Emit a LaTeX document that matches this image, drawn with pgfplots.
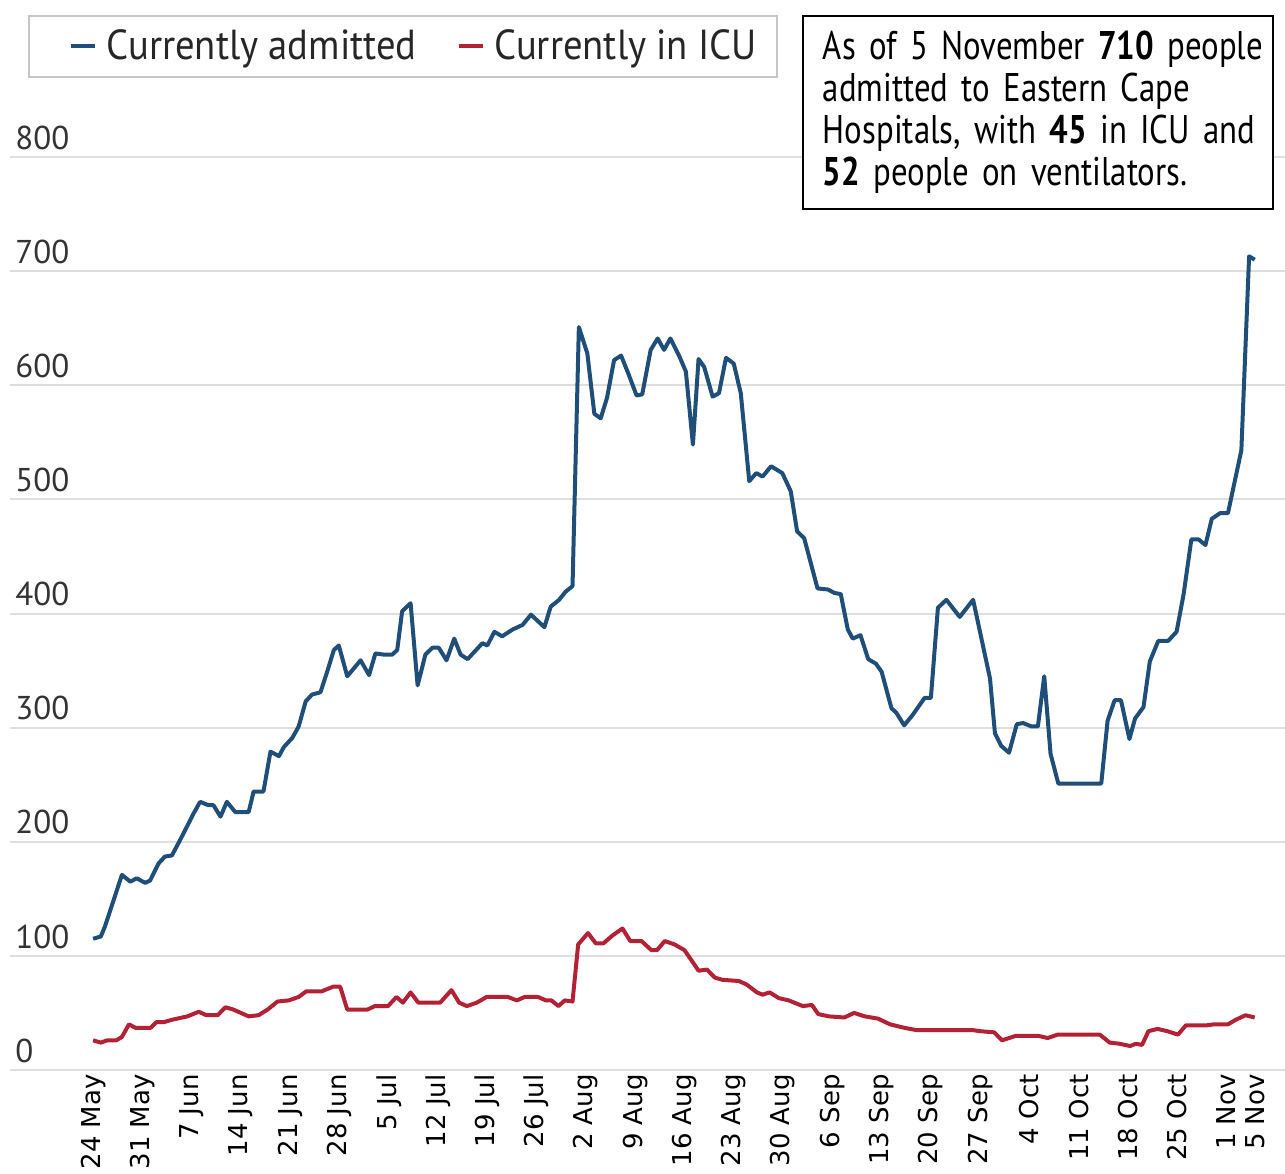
\documentclass[border=0pt]{standalone}
\usepackage{fontspec}
\setmainfont{PT Sans}[FakeStretch=0.92]
\newfontfamily\boxfont{PT Sans}[FakeStretch=0.82, WordSpace=0.6]
\newfontfamily\dejavu{DejaVu Sans}
\newfontfamily\tickfont{PT Sans}
\usepackage{pgfplots}
\pgfplotsset{compat=1.18}
\definecolor{cblue}{RGB}{31,78,121}
\definecolor{cred}{RGB}{178,34,52}
\definecolor{gridgray}{RGB}{222,222,222}
\begin{document}
\begin{tikzpicture}
\begin{axis}[
  at={(5pt,51.5pt)}, anchor=south west,
  width=637.5pt, height=456.5pt, scale only axis,
  xmin=-11.8, xmax=169.3, ymin=0, ymax=800,
  clip=false,
  axis line style={draw=none},
  ytick={0,100,...,800},
  ymajorgrids, grid style={color=gridgray, line width=1pt},
  major tick length=0pt,
  xtick={0,7,...,161,165},
  xticklabels={24 May,31 May,7 Jun,14 Jun,21 Jun,28 Jun,5 Jul,12 Jul,19 Jul,26 Jul,2 Aug,9 Aug,16 Aug,23 Aug,30 Aug,6 Sep,13 Sep,20 Sep,27 Sep,4 Oct,11 Oct,18 Oct,25 Oct,1 Nov,5 Nov},
  xticklabel style={rotate=90, anchor=east, inner sep=0pt, xshift=-2pt, font=\dejavu\fontsize{13}{13}\selectfont, text=black},
  yticklabel style={anchor=south west, inner sep=0pt, xshift=2.5pt, yshift=3.5pt, font=\tickfont\fontsize{16.5}{17}\selectfont, text=black!80},
  /pgf/number format/assume math mode=true,
  legend style={at={(0.0141,1.1555)}, anchor=north west, draw=gray!45, line width=0.8pt,
    font=\fontsize{21}{21}\selectfont, text=black!85, inner xsep=8pt, inner ysep=5pt,
    /tikz/every even column/.append style={column sep=6pt}},
  legend columns=2,
  legend cell align=left,
  legend image code/.code={\path (0pt,0pt) (27pt,0pt); \draw[#1, line width=2pt] (12pt,0pt) -- (24pt,0pt);},
]
\addplot[cblue, line width=2pt, line join=round, mark=none] coordinates {
(0,115)(1.1,117)(1.7,126)(4.1,171)(5.3,165)(6.2,168)(7.4,164)(8.1,166)(9.3,181)(10.2,187)(11.2,188)(12.4,202)(14.3,225)(15.2,235)(16.4,232)(17.1,232)(18.1,222)(19,235)(20.2,226)(22.1,226)(22.8,244)(24.2,244)(25.2,279)(26.4,275)(27.1,283)(28.3,291)(29.2,301)(30.2,323)(31.1,329)(32.3,331)(33.2,348)(34.2,368)(34.9,372)(36.1,345)(38,359)(39.2,346)(40.1,365)(41.3,364)(42.5,364)(43.2,368)(43.9,402)(45.1,409)(46.1,337)(47.2,364)(48.2,370)(49.1,370)(50.2,359)(51.3,378)(52.2,364)(53.2,360)(55.3,374)(56,372)(57,384)(58.1,380)(59.6,386)(61,390)(62.2,399)(64.1,388)(65,406)(66.2,412)(67.1,419)(68.1,424)(69,651)(70.2,628)(71.2,575)(72.1,571)(73,589)(74,622)(75,626)(76.1,609)(77.2,591)(78,592)(79.2,631)(80.2,641)(81.1,631)(82,641)(83.3,625)(84.2,612)(85.2,548)(86,623)(86.8,616)(88,590)(88.9,593)(89.9,624)(91,619)(92,593)(93.2,516)(94.2,523)(95.1,520)(96.3,529)(97.9,523)(99.1,507)(100,472)(101,466)(102.9,422)(104.4,421)(105.3,418)(106.2,417)(107.2,386)(107.9,378)(109,381)(110.1,360)(111.2,356)(112,349)(113.4,317)(114.1,313)(115.2,302)(116.4,311)(118.1,326)(119,326)(120,405)(121.2,412)(123.1,397)(125,412)(127.4,343)(128.1,295)(129,284)(130.1,278)(131.2,303)(132.1,304)(133.3,301)(134.2,301)(135.1,345)(136,277)(137.1,251)(143.2,251)(144.1,306)(145.1,324)(146,324)(147.2,290)(148,308)(149.2,318)(150.1,358)(151.3,376)(152.7,376)(153.9,384)(154.9,417)(156,465)(157,465)(158,460)(158.9,483)(160.1,488)(161.2,488)(162.2,517)(163.1,543)(164.2,713)(165,710)
};
\addlegendentry{Currently admitted}
\addplot[cred, line width=2pt, line join=round, mark=none] coordinates {
(0,26)(1.1,24)(2,26)(3.3,26)(4.1,29)(5.1,40)(6,37)(8.2,37)(9,42)(10.1,42)(11.2,44)(13.4,47)(15,51)(16.1,48)(17.7,48)(18.8,55)(19.9,53)(22.1,47)(23.5,48)(24.8,53)(26.2,60)(27.8,61)(29.2,64)(30.3,69)(32.5,69)(34.1,73)(35.1,73)(36.1,53)(39,53)(40,56)(41.9,56)(43.1,64)(44,59)(45.1,68)(46.2,59)(49.3,59)(50.9,70)(52,59)(53.1,56)(54.5,59)(55.9,64)(58.9,64)(60.2,61)(61.3,64)(63.2,64)(64.3,61)(65.1,61)(66.1,56)(67,61)(68.1,60)(68.9,110)(70.3,120)(71.4,111)(72.5,111)(73.8,118)(75.2,124)(76.3,113)(77.9,113)(79.3,105)(80.1,105)(81.2,113)(82.6,110)(84,105)(84.9,97)(86,87)(87.2,88)(88.3,81)(89.4,79)(91.7,78)(92.8,75)(94.3,68)(95.1,66)(96.1,68)(97.4,63)(98.8,61)(100.8,56)(102.1,57)(103,49)(104.5,47)(106.7,46)(108.1,50)(109.6,47)(111.5,45)(113.2,40)(115.2,37)(116.9,35)(124.9,35)(126,34)(128,33)(129.1,26)(131.1,30)(134.2,30)(135.6,28)(137,31)(143,31)(144.4,24)(145.8,23)(147.3,21)(148.1,23)(149,22)(149.9,34)(151.2,36)(152.6,34)(154.1,31)(155.2,39)(158,39)(159.2,40)(161.2,40)(162.3,44)(163.7,48)(165,46)
};
\addlegendentry{Currently in ICU}
\node[draw=black, line width=0.9pt, fill=white, anchor=north west, inner xsep=10pt, inner ysep=6pt,
  text width=215pt, minimum height=96.5pt, align=left, font=\boxfont\fontsize{20}{21}\selectfont, text=black]
  at (rel axis cs:0.6212,1.1555)
  {\mbox{As of 5 November \textbf{710} people}\\\mbox{admitted to Eastern Cape}\\\mbox{Hospitals, with \textbf{45} in ICU and}\\\mbox{\textbf{52} people on ventilators.}};
\end{axis}
\pgfresetboundingbox
\path[use as bounding box] (0pt,0pt) rectangle (642.5pt,586.5pt);
\end{tikzpicture}
\end{document}
